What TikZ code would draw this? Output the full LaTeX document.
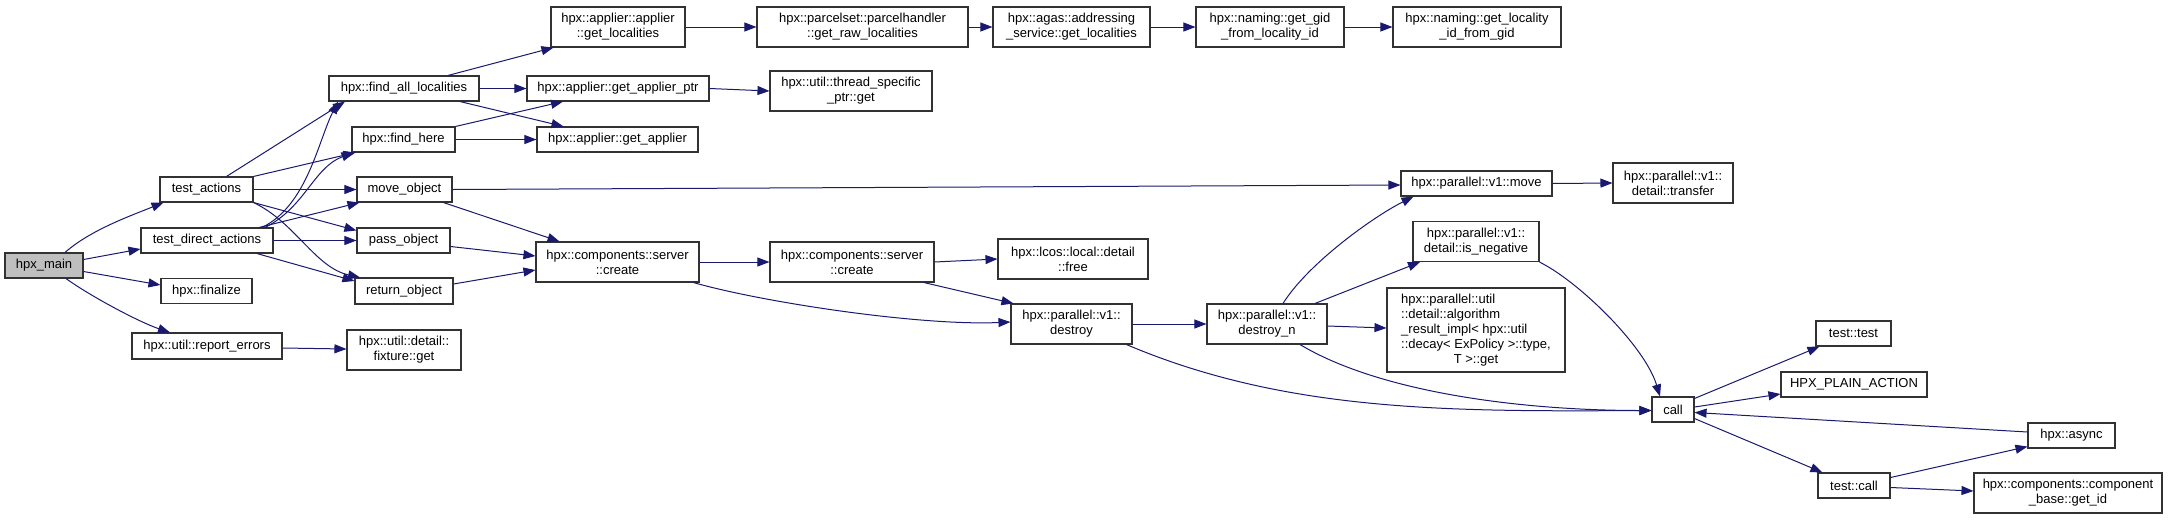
\documentclass[tikz,border=0pt]{standalone}
\usepackage{fontspec}
\setmainfont{Liberation Sans}
\usetikzlibrary{arrows.meta}
\definecolor{edgeblue}{RGB}{25,25,112}
\definecolor{rootgray}{RGB}{191,191,191}
\definecolor{boxline}{RGB}{50,50,50}
\begin{document}
\begin{tikzpicture}[x=1pt,y=-1pt,
  fn/.style={draw=boxline, line width=1.1pt, fill=white, rectangle, inner sep=0pt,
    align=center, font=\fontsize{13}{15}\selectfont, text=black},
  root/.style={fn, fill=rootgray},
  edge/.style={draw=edgeblue, line width=1pt, -{Triangle[length=12pt,width=9pt]}},
]
\useasboundingbox (0,0) rectangle (2175,520);

% nodes
\node[root, minimum width=78pt, minimum height=25pt] (hpxmain) at (44,265.5) {hpx\_main};
\node[fn, minimum width=93pt, minimum height=25pt] (testactions) at (206.5,189.5) {test\_actions};
\node[fn, minimum width=132pt, minimum height=25pt] (testdirect) at (207,240.5) {test\_direct\_actions};
\node[fn, minimum width=91pt, minimum height=25pt] (finalize) at (206.5,291) {hpx::finalize};
\node[fn, minimum width=150pt, minimum height=26pt] (reporterr) at (207,346) {hpx::util::report\_errors};
\node[fn, minimum width=114pt, minimum height=40pt] (fixture) at (404,350) {hpx::util::detail::\\fixture::get};
\node[fn, minimum width=150pt, minimum height=25pt] (findall) at (404,88.5) {hpx::find\_all\_localities};
\node[fn, minimum width=103pt, minimum height=25pt] (findhere) at (403.5,139.5) {hpx::find\_here};
\node[fn, minimum width=95pt, minimum height=25pt] (moveobj) at (404.5,189.5) {move\_object};
\node[fn, minimum width=93pt, minimum height=25pt] (passobj) at (403.5,240.5) {pass\_object};
\node[fn, minimum width=98pt, minimum height=26pt] (returnobj) at (404,291) {return\_object};
\node[fn, minimum width=134pt, minimum height=40pt] (appgetloc) at (618,27) {hpx::applier::applier\\::get\_localities};
\node[fn, minimum width=182pt, minimum height=25pt] (getappptr) at (618,88.5) {hpx::applier::get\_applier\_ptr};
\node[fn, minimum width=161pt, minimum height=25pt] (getapp) at (617.5,139.5) {hpx::applier::get\_applier};
\node[fn, minimum width=211pt, minimum height=40pt] (parcel) at (862.5,27) {hpx::parcelset::parcelhandler\\::get\_raw\_localities};
\node[fn, minimum width=162pt, minimum height=40pt] (threadsp) at (851,91) {hpx::util::thread\_specific\\\_ptr::get};
\node[fn, minimum width=157pt, minimum height=40pt] (addressing) at (1071.5,27) {hpx::agas::addressing\\\_service::get\_localities};
\node[fn, minimum width=148pt, minimum height=40pt] (gidfrom) at (1270,27) {hpx::naming::get\_gid\\\_from\_locality\_id};
\node[fn, minimum width=168pt, minimum height=40pt] (locfrom) at (1477,27) {hpx::naming::get\_locality\\\_id\_from\_gid};
\node[fn, minimum width=163pt, minimum height=40pt] (createa) at (617.5,262) {hpx::components::server\\::create};
\node[fn, minimum width=164pt, minimum height=40pt] (createb) at (852,262) {hpx::components::server\\::create};
\node[fn, minimum width=150pt, minimum height=40pt] (free) at (1073,259) {hpx::lcos::local::detail\\::free};
\node[fn, minimum width=121pt, minimum height=40pt] (destroy) at (1071.5,324) {hpx::parallel::v1::\\destroy};
\node[fn, minimum width=120pt, minimum height=40pt] (destroyn) at (1267,324) {hpx::parallel::v1::\\destroy\_n};
\node[fn, minimum width=151pt, minimum height=25pt] (vmove) at (1476.5,183.5) {hpx::parallel::v1::move};
\node[fn, minimum width=120pt, minimum height=40pt] (transfer) at (1673,183) {hpx::parallel::v1::\\detail::transfer};
\node[fn, minimum width=126pt, minimum height=40pt] (isneg) at (1476,241.5) {hpx::parallel::v1::\\detail::is\_negative};
\node[fn, minimum width=178pt, minimum height=84pt] (algo) at (1476,330) {\begin{tabular}{@{}l@{}}hpx::parallel::util\\::detail::algorithm\\\_result\_impl< hpx::util\\::decay< ExPolicy >::type,\\\multicolumn{1}{@{}c@{}}{T >::get}\end{tabular}};
\node[fn, minimum width=42pt, minimum height=25pt] (call) at (1673,409.5) {call};
\node[fn, minimum width=75pt, minimum height=25pt] (testtest) at (1853.5,333.5) {test::test};
\node[fn, minimum width=146pt, minimum height=25pt] (plain) at (1854,384.5) {HPX\_PLAIN\_ACTION};
\node[fn, minimum width=87pt, minimum height=25pt] (async) at (2071.5,435.5) {hpx::async};
\node[fn, minimum width=72pt, minimum height=25pt] (testcall) at (1854,485.5) {test::call};
\node[fn, minimum width=188pt, minimum height=40pt] (getid) at (2068,493) {hpx::components::component\\\_base::get\_id};

% edges from hpx_main
\draw[edge] ([xshift=21pt]hpxmain.north) .. controls +(25,-22) and +(-35,14) .. ([xshift=-43pt]testactions.south);
\draw[edge] ([yshift=6pt]hpxmain.east) -- ([yshift=-8.5pt]testdirect.west);
\draw[edge] ([yshift=-6pt]hpxmain.east) -- ([yshift=6pt]finalize.west);
\draw[edge] ([xshift=22pt]hpxmain.south) .. controls +(25,18) and +(-30,-10) .. ([xshift=-37pt]reporterr.north);
\draw[edge] ([yshift=-2pt]reporterr.east) -- ([yshift=1pt]fixture.west);

% test_actions
\draw[edge] ([xshift=20pt]testactions.north) -- ([xshift=-59pt]findall.south);
\draw[edge] (testactions.north east) -- ([xshift=-48pt]findhere.south);
\draw[edge] (testactions.east) -- (moveobj.west);
\draw[edge] (testactions.south east) -- ([yshift=10pt]passobj.west);
\draw[edge] (testactions.south east) .. controls +(42,20) and +(-45,-10) .. ([xshift=-44pt]returnobj.north);

% test_direct_actions
\draw[edge] ([xshift=55pt]testdirect.north) .. controls +(45,-22) and +(-20,40) .. ([xshift=-66pt]findall.south);
\draw[edge] ([xshift=58pt]testdirect.north) .. controls +(40,-20) and +(-40,15) .. ([xshift=-50pt]findhere.south);
\draw[edge] ([xshift=52pt]testdirect.north) -- ([xshift=3pt]moveobj.south west);
\draw[edge] (testdirect.east) -- (passobj.west);
\draw[edge] ([xshift=50pt]testdirect.south) -- ([yshift=10pt]returnobj.west);

% find_all / find_here
\draw[edge] ([xshift=44pt]findall.north) -- ([xshift=3pt]appgetloc.south west);
\draw[edge] (findall.east) -- (getappptr.west);
\draw[edge] ([xshift=56pt]findall.south) -- ([xshift=-54pt]getapp.north);
\draw[edge] (findhere.north east) -- ([xshift=-55pt]getappptr.south);
\draw[edge] (findhere.east) -- (getapp.west);

% top chain
\draw[edge] (appgetloc.east) -- (parcel.west);
\draw[edge] (parcel.east) -- (addressing.west);
\draw[edge] (addressing.east) -- (gidfrom.west);
\draw[edge] (gidfrom.east) -- (locfrom.west);
\draw[edge] (getappptr.east) -- (threadsp.west);

% objects to create
\draw[edge] (moveobj.east) -- ([yshift=-1.5pt]vmove.west);
\draw[edge] ([xshift=39pt]moveobj.south) -- ([xshift=-58pt]createa.north);
\draw[edge] ([yshift=-6pt]passobj.east) -- ([yshift=6pt]createa.west);
\draw[edge] ([yshift=7pt]returnobj.east) -- ([yshift=-8pt]createa.west);

% create chain
\draw[edge] (createa.east) -- (createb.west);
\draw[edge] ([xshift=76pt]createa.south) .. controls +(70,20) and +(-90,4) .. ([yshift=2pt]destroy.west);
\draw[edge] (createb.east) -- (free.west);
\draw[edge] ([xshift=72pt]createb.south) -- ([xshift=3pt]destroy.north west);
\draw[edge] (destroy.east) -- (destroyn.west);
\draw[edge] ([xshift=55pt]destroy.south) .. controls +(160,68) and +(-200,1) .. ([yshift=-1pt]call.west);

% destroy_n
\draw[edge] ([xshift=16pt]destroyn.north) .. controls +(25,-40) and +(-40,20) .. ([xshift=-63pt]vmove.south);
\draw[edge] ([xshift=48pt]destroyn.north) -- ([xshift=-56pt]isneg.south);
\draw[edge] ([yshift=-2pt]destroyn.east) -- ([yshift=2pt]algo.west);
\draw[edge] ([xshift=33pt]destroyn.south) .. controls +(80,48) and +(-130,0) .. ([yshift=-1pt]call.west);

\draw[edge] (vmove.east) -- (transfer.west);
\draw[edge] (isneg.south east) .. controls +(40,20) and +(-15,-50) .. ([xshift=-13pt]call.north);

% call
\draw[edge] ([yshift=-2pt]call.north east) -- ([xshift=4pt]testtest.south west);
\draw[edge] ([yshift=2.5pt]call.east) -- ([yshift=-9.5pt]plain.west);
\draw[edge] ([yshift=4pt]call.south east) -- ([xshift=5pt]testcall.north west);
\draw[edge] ([yshift=3.5pt]async.west) -- ([yshift=-3pt]call.east);
\draw[edge] ([yshift=8pt]testcall.east) -- ([yshift=2pt]async.south west);
\draw[edge] ([yshift=-2pt]testcall.east) -- ([yshift=2pt]getid.west);
\end{tikzpicture}
\end{document}
